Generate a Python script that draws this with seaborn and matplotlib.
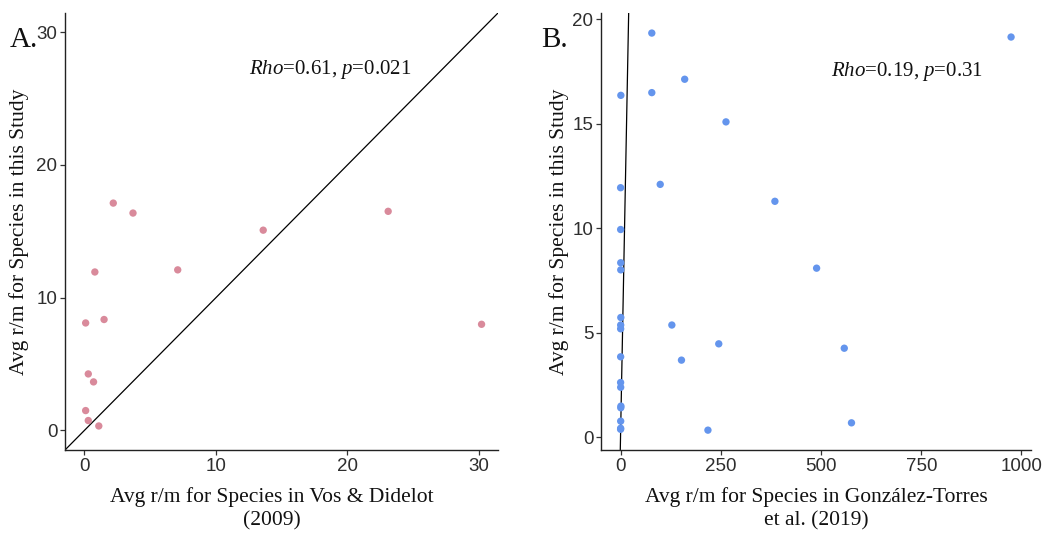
import numpy as np
import pandas as pd
import matplotlib
matplotlib.use("Agg")
import matplotlib.pyplot as plt
import seaborn as sns

# Panel A data (Vos & Didelot 2009 vs this study)
vos_x = [2.2, 3.7, 23.1, 13.6, 0.8, 7.1, 0.1, 1.5, 30.2, 0.3, 0.7, 0.1, 0.3, 1.1]
vos_y = [17.13, 16.38, 16.51, 15.09, 11.94, 12.10, 8.10, 8.36, 8.00, 4.26, 3.66, 1.50, 0.75, 0.34]

# Panel B data (González-Torres 2019 vs this study)
gt_x = [78, 974, 160, 0.8, 78, 263, 0.2, 99, 385, 0.3, 0.5, 0.6, 489, 0.7, 0.4, 0.3,
        128, 245, 558, 152, 0.3, 0.2, 0.4, 1.0, 0.6, 0.4, 0.3, 0.2, 218, 576]
gt_y = [19.34, 19.15, 17.13, 16.36, 16.49, 15.09, 11.94, 12.10, 11.29, 9.94, 8.35, 8.01,
        8.09, 5.73, 5.37, 5.19, 5.37, 4.47, 4.26, 3.69, 3.85, 2.62, 2.39, 1.49, 1.41,
        0.77, 0.43, 0.38, 0.34, 0.69]

xticks_a = [0, 10, 20, 30]
yticks_a = [0, 10, 20, 30]
xticks_b = [0, 250, 500, 750, 1000]
yticks_b = [0, 5, 10, 15, 20]

df_a = pd.DataFrame({"x": vos_x, "y": vos_y})
df_b = pd.DataFrame({"x": gt_x, "y": gt_y})

sns.set_theme(style="ticks")
plt.rcParams["font.family"] = ["Liberation Sans", "DejaVu Sans"]
plt.rcParams["mathtext.fontset"] = "custom"
plt.rcParams["mathtext.rm"] = "Liberation Serif"
plt.rcParams["mathtext.it"] = "Liberation Serif:italic"

fig = plt.figure(figsize=(10.45, 5.36), dpi=100)
W, H = 1045, 536
axA = fig.add_axes([65 / W, (H - 450) / H, 433 / W, 437 / H])
axB = fig.add_axes([601 / W, (H - 450) / H, 430 / W, 437 / H])

serif = ["Liberation Serif", "DejaVu Serif"]
tick_color = "#2E2E2E"

def style(ax, xticks, yticks, xlim, ylim, xlabel, ylabel, xlab_x, ylab_x):
    ax.set_xlim(*xlim)
    ax.set_ylim(*ylim)
    ax.set_xticks(xticks)
    ax.set_yticks(yticks)
    ax.set_xticklabels([str(t) for t in xticks])
    ax.set_yticklabels([str(t) for t in yticks])
    for s in ["top", "right"]:
        ax.spines[s].set_visible(False)
    for s in ["left", "bottom"]:
        ax.spines[s].set_color("#222222")
        ax.spines[s].set_linewidth(1.0)
    ax.tick_params(axis="both", length=3.5, width=0.9, color="#333333",
                   labelsize=13.5, labelcolor=tick_color, pad=2)
    ax.set_xlabel(xlabel, family=serif, fontsize=15.5, color="#111111", linespacing=1.3)
    ax.set_ylabel(ylabel, family=serif, fontsize=15.5, color="#111111")
    ax.xaxis.set_label_coords(xlab_x, -0.085)
    ax.yaxis.set_label_coords(ylab_x, 0.5)
    ax.patch.set_alpha(0)

# Panel A
limA = (-1.47, 31.45)
axA.plot(limA, limA, color="black", lw=0.9, zorder=1)
sns.scatterplot(data=df_a, x="x", y="y", ax=axA, color="#D98A9B", s=28,
                edgecolor="none", zorder=3)
style(axA, xticks_a, yticks_a, limA, limA,
      "Avg r/m for Species in Vos & Didelot\n(2009)",
      "Avg r/m for Species in this Study", 0.478, -0.083)
axA.text(18.7, 27.2, r"$\it{Rho}$=0.61, $\it{p}$=0.021", ha="center", va="center",
         fontsize=15, family=serif, color="#111111")
fig.text(10 / W, (H - 40) / H, "A.", family=serif, fontsize=21, ha="left",
         va="center", color="#111111")

# Panel B
xlimB = (-48.7, 1023.7)
ylimB = (-0.61, 20.3)
axB.plot([-1, 21], [-1, 21], color="black", lw=0.9, zorder=1)
sns.scatterplot(data=df_b, x="x", y="y", ax=axB, color="#6495ED", s=28,
                edgecolor="none", zorder=3)
style(axB, xticks_b, yticks_b, xlimB, ylimB,
      "Avg r/m for Species in González-Torres\net al. (2019)",
      "Avg r/m for Species in this Study", 0.5, -0.075)
axB.text(714, 17.5, r"$\it{Rho}$=0.19, $\it{p}$=0.31", ha="center", va="center",
         fontsize=15, family=serif, color="#111111")
fig.text(541 / W, (H - 40) / H, "B.", family=serif, fontsize=21, ha="left",
         va="center", color="#111111")

fig.savefig("out.png", dpi=100)
